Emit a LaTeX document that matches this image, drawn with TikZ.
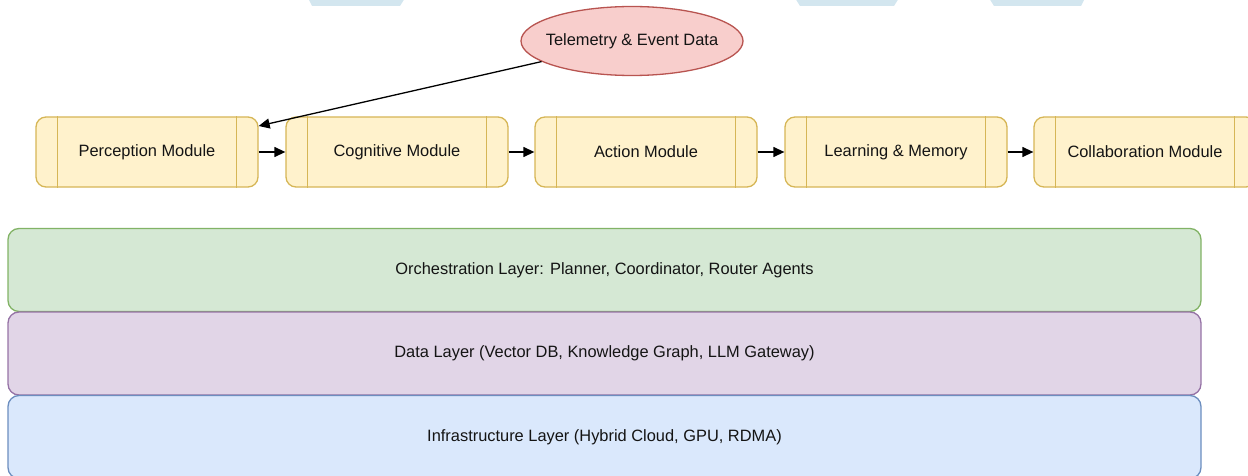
\documentclass[tikz,border=0pt]{standalone}
\usepackage{fontspec}
\setmainfont{Liberation Sans}
\usetikzlibrary{shapes.geometric,arrows.meta}
\definecolor{ylwfill}{HTML}{FFF2CC}
\definecolor{ylwline}{HTML}{D6B656}
\definecolor{redfill}{HTML}{F8CECC}
\definecolor{redline}{HTML}{B85450}
\definecolor{grnfill}{HTML}{D5E8D4}
\definecolor{grnline}{HTML}{82B366}
\definecolor{purfill}{HTML}{E1D5E7}
\definecolor{purline}{HTML}{9673A6}
\definecolor{blufill}{HTML}{DAE8FC}
\definecolor{bluline}{HTML}{6C8EBF}
\definecolor{tipblue}{HTML}{D3E6EF}
\definecolor{txt}{HTML}{141414}
\tikzset{
  lbl/.style={font=\fontsize{16.4pt}{19pt}\selectfont, text=txt},
  modbox/.style={lbl, draw=ylwline, fill=ylwfill, line width=1.3pt, rounded corners=10pt,
    minimum width=222pt, minimum height=70pt, inner sep=0pt},
  layerbox/.style={lbl, line width=1.3pt, rounded corners=11pt,
    minimum width=1193pt, minimum height=83pt, inner sep=0pt},
  evt/.style={lbl, ellipse, draw=redline, fill=redfill, line width=1.3pt,
    minimum width=222pt, minimum height=69pt, inner xsep=-9pt, inner ysep=0pt},
  flow/.style={line width=1.3pt, -{Triangle[length=11pt,width=10pt]}},
  divider/.style={draw=ylwline, line width=1.3pt}
}
\begin{document}
\begin{tikzpicture}[x=1pt,y=-1pt]
\useasboundingbox (0,0) rectangle (1248,476);
% partial shapes at top edge
\fill[tipblue] (308,-2) -- (405,-2) -- (400,6) -- (312,6) -- cycle;
\fill[tipblue] (795,-2) -- (899,-2) -- (894,6) -- (800,6) -- cycle;
\fill[tipblue] (989,-2) -- (1085,-2) -- (1081,6) -- (994,6) -- cycle;

% modules
\node[modbox] (perc) at (147,152) {Perception Module};
\node[modbox] (cogn) at (397,152) {Cognitive Module};
\node[modbox] (actn) at (646,152) {Action Module};
\node[modbox] (lrnm) at (896,152) {Learning \& Memory};
\node[modbox] (colb) at (1145,152) {Collaboration Module};
\foreach \m in {perc,cogn,actn,lrnm,colb}{
  \draw[divider] ([xshift=22pt]\m.north west) -- ([xshift=22pt]\m.south west);
  \draw[divider] ([xshift=-22pt]\m.north east) -- ([xshift=-22pt]\m.south east);
}

% event source
\node[evt] (tele) at (632,41) {Telemetry \& Event Data};
\coordinate (percin) at ([yshift=26pt]perc.east);
\draw[flow] (tele) -- (percin);

% module chain
\draw[flow] (perc) -- (cogn);
\draw[flow] (cogn) -- (actn);
\draw[flow] (actn) -- (lrnm);
\draw[flow] (lrnm) -- (colb);

% layers
\node[layerbox, draw=grnline, fill=grnfill] (orch) at (604.5,270) {Orchestration Layer: Planner, Coordinator, Router Agents};
\node[layerbox, draw=purline, fill=purfill] (data) at (604.5,353.5) {Data Layer (Vector DB, Knowledge Graph, LLM Gateway)};
\node[layerbox, draw=bluline, fill=blufill] (infr) at (604.5,437) {Infrastructure Layer (Hybrid Cloud, GPU, RDMA)};
\end{tikzpicture}
\end{document}
